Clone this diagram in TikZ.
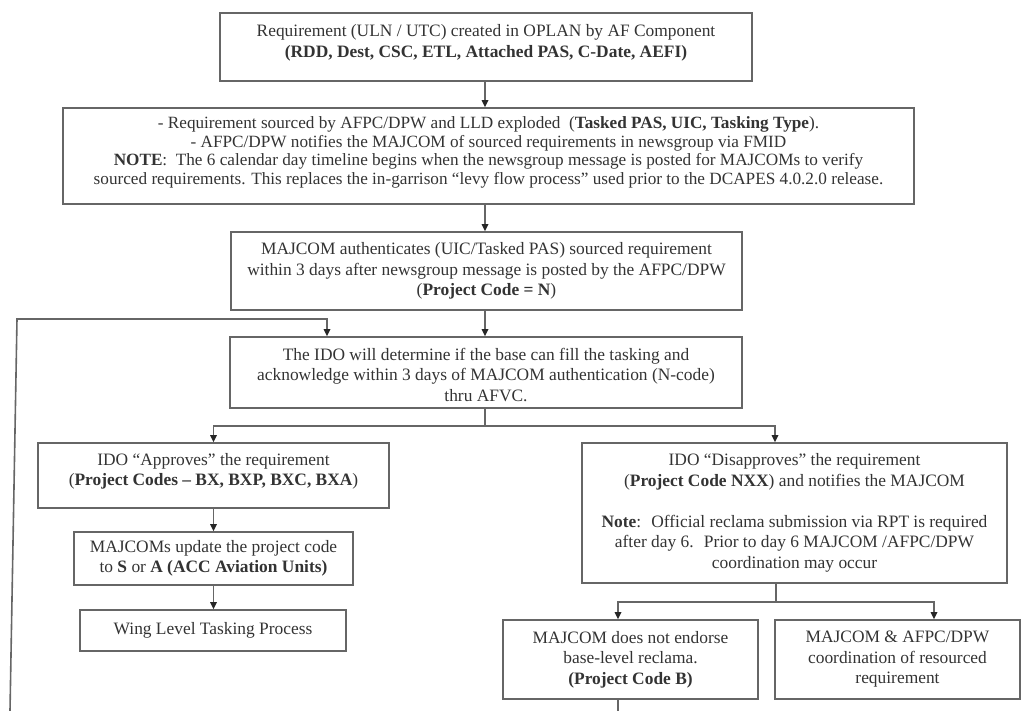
\documentclass[tikz,border=0pt]{standalone}
\usepackage{fontspec}
\setmainfont{Liberation Serif}
\usetikzlibrary{arrows.meta}
\tikzset{
  box/.style={draw=black!60, line width=1.6pt, rectangle, inner sep=0pt, align=center,
    text=black!80, font=\fontsize{17.4}{20.5}\selectfont},
  tightbox/.style={box, font=\fontsize{17.2}{18.5}\selectfont},
  link/.style={draw=black!60, line width=1.6pt},
  arr/.style={link, -{Triangle[length=7pt,width=6.5pt,color=black!85]}},
}
\begin{document}
\begin{tikzpicture}[x=1pt,y=-1pt]
\useasboundingbox (0,0) rectangle (1021,711);

\node[box, minimum width=532pt, minimum height=68pt] (b1) at (486,47)
  {Requirement (ULN / UTC) created in OPLAN by AF Component\\
   \textbf{(RDD, Dest, CSC, ETL, Attached PAS, C-Date, AEFI)}\\[-8pt]\mbox{}};

\node[tightbox, minimum width=851pt, minimum height=96pt] (b2) at (488.5,156)
  {- Requirement sourced by AFPC/DPW and LLD exploded~ (\textbf{Tasked PAS, UIC, Tasking Type}).\\
   - AFPC/DPW notifies the MAJCOM of sourced requirements in newsgroup via FMID\\
   \textbf{NOTE}:~ The 6 calendar day timeline begins when the newsgroup message is posted for MAJCOMs to verify\\
   sourced requirements. This replaces the in-garrison “levy flow process” used prior to the DCAPES 4.0.2.0 release.\\[-8pt]\mbox{}};

\node[box, minimum width=511pt, minimum height=78pt] (b3) at (486.5,271)
  {MAJCOM authenticates (UIC/Tasked PAS) sourced requirement\\
   within 3 days after newsgroup message is posted by the AFPC/DPW\\
   (\textbf{Project Code = N})};

\node[box, minimum width=512pt, minimum height=71pt] (b4) at (486,372.5)
  {\mbox{}\\[-4pt]The IDO will determine if the base can fill the tasking and\\
   acknowledge within 3 days of MAJCOM authentication (N-code)\\
   thru AFVC.};

\node[box, minimum width=351pt, minimum height=65pt] (b5) at (213.5,475.5)
  {IDO “Approves” the requirement\\
   (\textbf{Project Codes – BX, BXP, BXC, BXA})\\[-8pt]\mbox{}};

\node[box, minimum width=425pt, minimum height=140pt] (b6) at (794.5,513)
  {IDO “Disapproves” the requirement\\
   (\textbf{Project Code NXX}) and notifies the MAJCOM\\
   \mbox{}\\
   \textbf{Note}:~ Official reclama submission via RPT is required\\
   after day 6.~ Prior to day 6 MAJCOM /AFPC/DPW\\
   coordination may occur};

\node[box, minimum width=279pt, minimum height=53pt] (b7) at (213.5,558.5)
  {MAJCOMs update the project code\\
   to \textbf{S} or \textbf{A (ACC Aviation Units)}};

\node[box, minimum width=266pt, minimum height=41pt] (b8) at (213,630.5)
  {Wing Level Tasking Process};

\node[box, minimum width=255pt, minimum height=79pt] (b9) at (630.5,659.5)
  {MAJCOM does not endorse\\
   base-level reclama.\\
   \textbf{(Project Code B)}};

\node[box, minimum width=245pt, minimum height=79pt] (b10) at (897.5,659.5)
  {MAJCOM \& AFPC/DPW\\
   coordination of resourced\\
   requirement};

% helper coordinates
\coordinate (spx) at (485,0);
\coordinate (j1) at (485,426);
\coordinate (x6) at (775,0);
\coordinate (j2) at (776,602);
\coordinate (x9) at (618,0);
\coordinate (x10) at (934,0);
\coordinate (e9) at (618,711);
\coordinate (l0) at (10,711);
\coordinate (l1) at (17,319);
\coordinate (l2) at (327,319);

\draw[arr] (b1.south -| spx) -- (b2.north -| spx);
\draw[arr] (b2.south -| spx) -- (b3.north -| spx);
\draw[arr] (b3.south -| spx) -- (b4.north -| spx);
\draw[link] (b4.south -| spx) -- (j1);
\draw[arr] (j1) -| (b5.north);
\draw[arr] (j1) -| (b6.north -| x6);
\draw[arr] (b5.south) -- (b7.north);
\draw[arr] (b7.south) -- (b7.south |- b8.north);
\draw[link] (b6.south -| j2) -- (j2);
\draw[arr] (j2) -| (b9.north -| x9);
\draw[arr] (j2) -| (b10.north -| x10);
\draw[link] (b9.south -| e9) -- (e9);
\draw[arr] (l0) -- (l1) -- (l2) -- (b4.north -| l2);
\end{tikzpicture}
\end{document}
